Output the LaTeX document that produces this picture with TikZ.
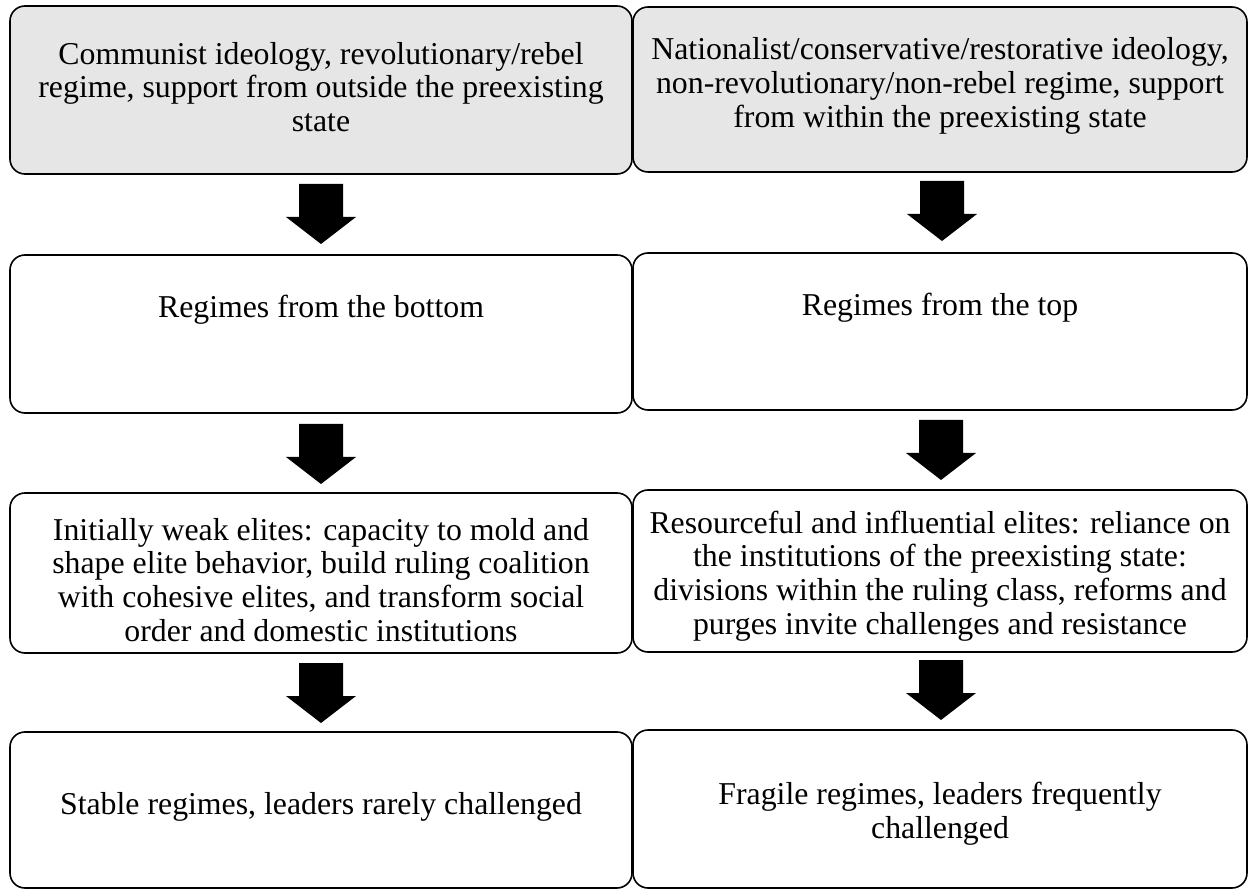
\documentclass[tikz,border=0pt]{standalone}
\usepackage{fontspec}
\setmainfont{Liberation Serif}
\definecolor{boxgray}{HTML}{E6E6E6}
\begin{document}
\begin{tikzpicture}[x=1pt,y=-1pt,
  box/.style={draw=black,line width=1.6pt,rounded corners=15pt},
  graybox/.style={box,fill=boxgray},
  txt/.style={inner sep=0pt,align=center,font=\fontsize{31.8}{33.8}\selectfont},
  blockarrow/.pic={\fill[black] (-22,0) -- (22,0) -- (22,33) -- (35,33) -- (0,60) -- (-35,33) -- (-22,33) -- cycle;}
]
\useasboundingbox (0,0) rectangle (1248,890);
% boxes
\draw[graybox] (10,6) rectangle (632,174);
\draw[graybox] (633,7) rectangle (1247,172);
\draw[box] (10,255) rectangle (632,413);
\draw[box] (633,253) rectangle (1247,410);
\draw[box] (10,493) rectangle (632,653);
\draw[box] (633,490) rectangle (1247,652);
\draw[box] (10,732) rectangle (632,888);
\draw[box] (633,730) rectangle (1247,888);
% texts
\node[txt] (l1) at (321,87) {Communist ideology, revolutionary/rebel\\regime, support from outside the preexisting\\state};
\node[txt] (r1) at (940,86) {Nationalist/conservative/restorative ideology,\\non-revolutionary/non-rebel regime, support\\from within the preexisting state};
\node[txt] (l2) at (321,310) {Regimes from the bottom};
\node[txt] (r2) at (940,308) {Regimes from the top};
\node[txt] (l3) at (321,580) {Initially weak elites: capacity to mold and\\shape elite behavior, build ruling coalition\\with cohesive elites, and transform social\\order and domestic institutions};
\node[txt] (r3) at (940,576) {Resourceful and influential elites: reliance on\\the institutions of the preexisting state:\\divisions within the ruling class, reforms and\\purges invite challenges and resistance};
\node[txt] (l4) at (321,807) {Stable regimes, leaders rarely challenged};
\node[txt] (r4) at (940,814) {Fragile regimes, leaders frequently\\challenged};
% arrows
\pic at (321,184) {blockarrow};
\pic at (942,181) {blockarrow};
\pic at (321,424) {blockarrow};
\pic at (941,420) {blockarrow};
\pic at (321,663) {blockarrow};
\pic at (941,660) {blockarrow};
\end{tikzpicture}
\end{document}
